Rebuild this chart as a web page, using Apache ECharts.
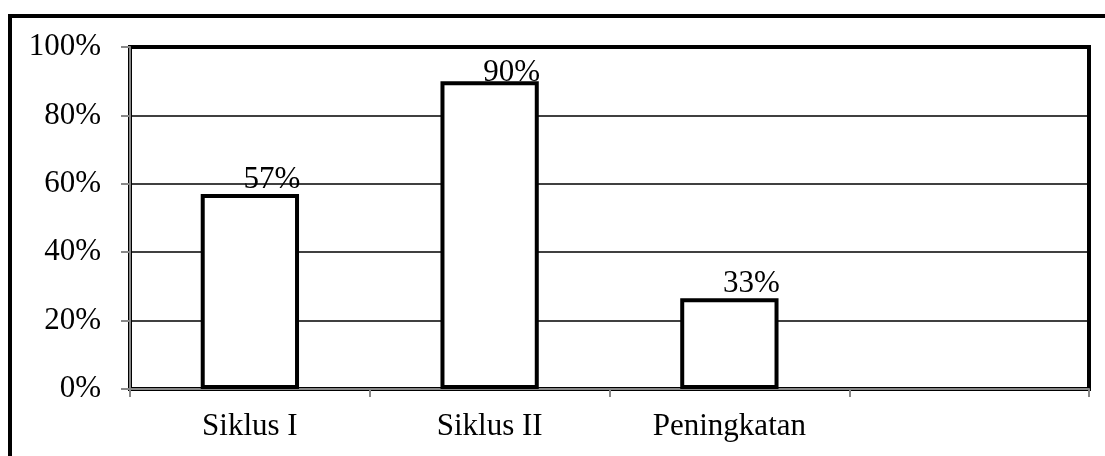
<!DOCTYPE html>
<html>
<head>
<meta charset="utf-8">
<script src="https://cdn.jsdelivr.net/npm/echarts@6/dist/echarts.min.js"></script>
<style>
html, body { margin: 0; padding: 0; background: #fff; }
#chart { width: 1105px; height: 456px; }
</style>
</head>
<body>
<div id="chart"></div>
<script>
var categories = ['Siklus I', 'Siklus II', 'Peningkatan', ''];
var values = [57, 90, 26.5, null];
var barLabels = ['57%', '90%', '33%', ''];
var yTicks = [0, 20, 40, 60, 80, 100];

function drawChart(){
    var oDom = document.getElementById('chart');
    var chart = echarts.init(oDom);
    var font = 'Liberation Serif';
    // the 90% label sits lower, over the top edge of its bar
    var barData = values.map(function(v, i){
        var item = { value: v };
        if (i === 1) item.label = { offset: [22, 7] };
        return item;
    });
    var option = {
        animation: false,
        backgroundColor: '#fff',
        graphic: [{
            type: 'rect',
            shape: { x: 10, y: 16, width: 1200, height: 600 },
            style: { fill: 'none', stroke: '#000', lineWidth: 4 },
            silent: true
        }],
        grid: {
            left: 130,
            right: 16,
            top: 47,
            bottom: 67,
            show: true,
            borderColor: '#000',
            borderWidth: 4,
            backgroundColor: 'transparent'
        },
        xAxis: {
            type: 'category',
            data: categories,
            boundaryGap: true,
            axisLine: { show: true, lineStyle: { color: '#888', width: 2 } },
            axisTick: { show: true, length: 8, lineStyle: { color: '#888', width: 2 } },
            axisLabel: { color: '#000', fontFamily: font, fontSize: 31, margin: 22 }
        },
        yAxis: {
            type: 'value',
            min: yTicks[0],
            max: yTicks[yTicks.length - 1],
            interval: 20,
            axisLine: { show: true, lineStyle: { color: '#888', width: 2 } },
            axisTick: { show: true, length: 9, lineStyle: { color: '#888', width: 2 } },
            axisLabel: { color: '#000', fontFamily: font, fontSize: 31, margin: 29, formatter: '{value}%' },
            splitLine: { show: true, lineStyle: { color: '#000', width: 1.5 } }
        },
        series: [{
            type: 'bar',
            data: barData,
            barWidth: '41%',
            itemStyle: { color: '#fff', borderColor: '#000', borderWidth: 4 },
            label: {
                show: true,
                position: 'top',
                distance: 0,
                offset: [22, 1],
                color: '#000',
                fontFamily: font,
                fontSize: 31,
                formatter: function(p){ return barLabels[p.dataIndex]; }
            }
        }]
    };
    chart.setOption(option);
}

drawChart();
</script>
</body>
</html>
